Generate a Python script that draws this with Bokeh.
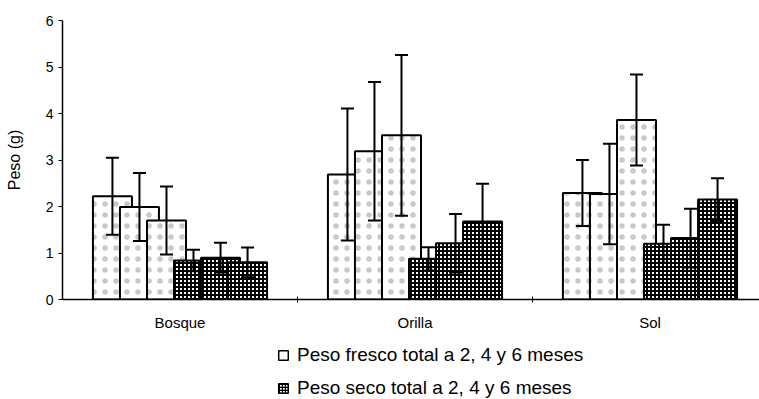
from bokeh.plotting import figure
from bokeh.models import (Range1d, FixedTicker, Whisker, TeeHead, ColumnDataSource,
                          Legend, LegendItem)
from bokeh.layouts import column
from bokeh.embed import file_html
from bokeh.resources import INLINE

# ---- data ----
categories = ["Bosque", "Orilla", "Sol"]

fresco_2 = [2.22, 2.69, 2.29]
fresco_4 = [1.99, 3.19, 2.27]
fresco_6 = [1.70, 3.53, 3.86]
fresco_2_sd = [0.83, 1.42, 0.71]
fresco_4_sd = [0.73, 1.49, 1.08]
fresco_6_sd = [0.73, 1.73, 0.98]

seco_2 = [0.84, 0.875, 1.20]
seco_4 = [0.90, 1.21, 1.32]
seco_6 = [0.80, 1.68, 2.15]
seco_2_sd = [0.23, 0.25, 0.41]
seco_4_sd = [0.32, 0.63, 0.63]
seco_6_sd = [0.32, 0.81, 0.46]

y_ticks = [0, 1, 2, 3, 4, 5, 6]
legend_labels = ["Peso fresco total a 2, 4 y 6 meses", "Peso seco total a 2, 4 y 6 meses"]

series = [
    (fresco_2, fresco_2_sd, "fresh"),
    (fresco_4, fresco_4_sd, "fresh"),
    (fresco_6, fresco_6_sd, "fresh"),
    (seco_2, seco_2_sd, "dry"),
    (seco_4, seco_4_sd, "dry"),
    (seco_6, seco_6_sd, "dry"),
]

FONT = "Liberation Sans"
offset = 0.115
bar_w = 0.166

FRESH_STYLE = dict(fill_color="white", line_color="black", line_width=2,
                   hatch_pattern="dot", hatch_color="#c8c8c8", hatch_scale=11, hatch_weight=1)
DRY_STYLE = dict(fill_color="white", line_color="black", line_width=2,
                 hatch_pattern="cross", hatch_color="black", hatch_scale=4, hatch_weight=2)

p = figure(width=759, height=338, x_range=Range1d(0, 2.966), y_range=Range1d(0, 6),
           output_backend="svg", toolbar_location=None,
           min_border_left=62, min_border_right=0, min_border_top=20, min_border_bottom=39)
p.outline_line_color = None
p.grid.visible = False
p.background_fill_color = "white"
p.border_fill_color = "white"

whisk_sources = []
n = len(series)
for j, (vals, sds, kind) in enumerate(series):
    xs = [i + 0.5 + (j - (n - 1) / 2) * offset for i in range(len(categories))]
    src = ColumnDataSource(dict(x=xs, top=vals,
                                upper=[v + s for v, s in zip(vals, sds)],
                                lower=[v - s for v, s in zip(vals, sds)]))
    style = FRESH_STYLE if kind == "fresh" else DRY_STYLE
    p.vbar(x="x", top="top", bottom=0, width=bar_w, source=src, **style)
    whisk_sources.append(src)

for src in whisk_sources:
    w = Whisker(base="x", upper="upper", lower="lower", source=src,
                line_color="black", line_width=2, level="annotation",
                upper_head=TeeHead(size=13, line_width=2, line_color="black"),
                lower_head=TeeHead(size=13, line_width=2, line_color="black"))
    p.add_layout(w)

# x axis
p.xaxis.ticker = FixedTicker(ticks=[i + 0.5 for i in range(len(categories))],
                             minor_ticks=[1, 2])
p.xaxis.major_label_overrides = {i + 0.5: c for i, c in enumerate(categories)}
p.xaxis.major_tick_in = 0
p.xaxis.major_tick_out = 0
p.xaxis.minor_tick_in = 3
p.xaxis.minor_tick_out = 3
p.xaxis.axis_line_width = 1.5
p.xaxis.major_label_text_font = FONT
p.xaxis.major_label_text_font_size = "15px"
p.xaxis.major_label_text_color = "black"
p.xaxis.major_label_standoff = 11

# y axis
p.yaxis.ticker = FixedTicker(ticks=y_ticks)
p.yaxis.major_tick_in = 0
p.yaxis.major_tick_out = 4
p.yaxis.minor_tick_line_color = None
p.yaxis.axis_line_width = 1.5
p.yaxis.major_label_text_font = FONT
p.yaxis.major_label_text_font_size = "14px"
p.yaxis.major_label_text_color = "black"
p.yaxis.major_label_standoff = 5
p.yaxis.axis_label = "Peso (g)"
p.yaxis.axis_label_text_font = FONT
p.yaxis.axis_label_text_font_size = "16px"
p.yaxis.axis_label_text_font_style = "normal"
p.yaxis.axis_label_text_color = "black"
p.yaxis.axis_label_standoff = 20

# legend strip below the chart
q = figure(width=759, height=61, x_range=Range1d(0, 1), y_range=Range1d(0, 1),
           output_backend="svg", toolbar_location=None,
           min_border=0)
q.axis.visible = False
q.grid.visible = False
q.outline_line_color = None
q.background_fill_color = "white"
q.border_fill_color = "white"
nan = float("nan")
empty = ColumnDataSource(dict(x=[nan], top=[nan]))
lf = q.vbar(x="x", top="top", width=0.01, source=empty,
            fill_color="white", line_color="black", line_width=1.5)
ld = q.vbar(x="x", top="top", width=0.01, source=empty,
            fill_color="white", line_color="black", line_width=1.5,
            hatch_pattern="cross", hatch_color="black", hatch_scale=3, hatch_weight=1.5)
legend = Legend(items=[LegendItem(label=legend_labels[0], renderers=[lf]),
                       LegendItem(label=legend_labels[1], renderers=[ld])],
                location=(215, 0), orientation="vertical",
                glyph_width=12, glyph_height=12, label_height=22, spacing=11,
                label_standoff=8, padding=0, margin=0,
                border_line_color=None, background_fill_alpha=0,
                label_text_font=FONT, label_text_font_size="19px",
                label_text_color="black")
q.add_layout(legend, "center")

layout = column(p, q, spacing=0)
open("out.html", "w").write(file_html(layout, INLINE))
